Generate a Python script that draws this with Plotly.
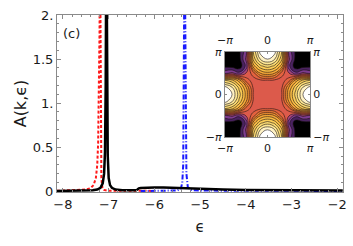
import plotly.graph_objects as go

# ---------------- data ----------------
# black solid curve
black_x = [-8.13, -7.8, -7.5, -7.35, -7.25, -7.18, -7.13, -7.10, -7.08, -7.065, -7.05,
           -7.035, -7.02, -7.0, -6.97, -6.93, -6.85, -6.7, -6.5, -6.4, -6.37, -6.34,
           -6.3, -6.2, -6.0, -5.8, -5.5, -5.35, -5.0, -4.5, -4.0, -3.5, -3.0, -2.5, -1.88]
black_y = [0.004, 0.005, 0.008, 0.012, 0.02, 0.04, 0.09, 0.2, 0.45, 1.2, 3.0,
           1.2, 0.4, 0.15, 0.07, 0.04, 0.02, 0.013, 0.01, 0.012, 0.02, 0.033,
           0.038, 0.042, 0.042, 0.042, 0.036, 0.033, 0.027, 0.021, 0.016, 0.013, 0.011, 0.009, 0.008]

# red dashed curve
red_x = [-8.13, -7.8, -7.5, -7.4, -7.33, -7.28, -7.25, -7.23, -7.21, -7.20, -7.19,
         -7.18, -7.17, -7.16, -7.14, -7.1, -7.0, -6.8, -6.5, -6.3, -6.0]
red_y = [0.006, 0.01, 0.02, 0.035, 0.07, 0.15, 0.3, 0.55, 1.1, 1.8, 3.0,
         1.5, 0.5, 0.15, 0.05, 0.015, 0.005, 0.003, 0.003, 0.006, 0.004]

# blue dash-dot curve
blue_x = [-6.3, -6.0, -5.7, -5.5, -5.42, -5.39, -5.37, -5.36, -5.35, -5.34, -5.33,
          -5.32, -5.30, -5.27, -5.2, -5.0, -4.5, -4.0, -3.0, -2.0, -1.88]
blue_y = [0.002, 0.003, 0.005, 0.01, 0.03, 0.1, 0.3, 0.8, 2.0, 3.0, 2.0,
          0.8, 0.2, 0.05, 0.015, 0.008, 0.006, 0.005, 0.004, 0.004, 0.004]

x_tickvals = [-8, -7, -6, -5, -4, -3, -2]
x_ticktext = ["\u22128", "\u22127", "\u22126", "\u22125", "\u22124", "\u22123", "\u22122"]
y_tickvals = [0, 0.5, 1, 1.5, 2]
y_ticktext = ["0", "0.5", "1.", "1.5", "2."]

# inset contour map: contour-band level read at each point of a 13x13 grid over [-pi, pi]^2
k_vals = [-3.1416, -2.618, -2.0944, -1.5708, -1.0472, -0.5236, 0.0,
          0.5236, 1.0472, 1.5708, 2.0944, 2.618, 3.1416]
inset_z = [
    [-1.5, -0.8, 0.2, 2.2, 10.5, 13.9, 14.5, 13.9, 10.5, 2.2, 0.2, -0.8, -1.5],
    [-0.8, -1.0, 0.0, 2.8, 9.8, 12.6, 13.6, 12.6, 9.8, 2.8, 0.0, -1.0, -0.8],
    [0.2, 0.0, -0.3, 1.8, 8.0, 10.2, 11.0, 10.2, 8.0, 1.8, -0.3, 0.0, 0.2],
    [2.2, 2.8, 1.8, 3.6, 5.0, 7.5, 8.1, 7.5, 5.0, 3.6, 1.8, 2.8, 2.2],
    [10.5, 9.8, 8.0, 5.0, 4.0, 4.3, 4.4, 4.3, 4.0, 5.0, 8.0, 9.8, 10.5],
    [13.9, 12.6, 10.2, 7.5, 4.3, 4.0, 4.0, 4.0, 4.3, 7.5, 10.2, 12.6, 13.9],
    [14.5, 13.6, 11.0, 8.1, 4.4, 4.0, 4.0, 4.0, 4.4, 8.1, 11.0, 13.6, 14.5],
    [13.9, 12.6, 10.2, 7.5, 4.3, 4.0, 4.0, 4.0, 4.3, 7.5, 10.2, 12.6, 13.9],
    [10.5, 9.8, 8.0, 5.0, 4.0, 4.3, 4.4, 4.3, 4.0, 5.0, 8.0, 9.8, 10.5],
    [2.2, 2.8, 1.8, 3.6, 5.0, 7.5, 8.1, 7.5, 5.0, 3.6, 1.8, 2.8, 2.2],
    [0.2, 0.0, -0.3, 1.8, 8.0, 10.2, 11.0, 10.2, 8.0, 1.8, -0.3, 0.0, 0.2],
    [-0.8, -1.0, 0.0, 2.8, 9.8, 12.6, 13.6, 12.6, 9.8, 2.8, 0.0, -1.0, -0.8],
    [-1.5, -0.8, 0.2, 2.2, 10.5, 13.9, 14.5, 13.9, 10.5, 2.2, 0.2, -0.8, -1.5],
]
pi_tickvals = [-3.1416, 0, 3.1416]
pi_ticktext = ["\u2212<i>\u03c0</i>", "0", "<i>\u03c0</i>"]

# ---------------- figure ----------------
FONT = "DejaVu Sans"
fig = go.Figure()

fig.add_trace(go.Scatter(x=red_x, y=red_y, mode="lines",
                         line=dict(color="#ff1a1a", width=2, dash="3px,2px"),
                         showlegend=False))
fig.add_trace(go.Scatter(x=blue_x, y=blue_y, mode="lines",
                         line=dict(color="#1a1aff", width=2, dash="5px,2px,1px,2px"),
                         showlegend=False))
fig.add_trace(go.Scatter(x=black_x, y=black_y, mode="lines",
                         line=dict(color="black", width=2.5),
                         showlegend=False))

# band n (0..14) is drawn with the colour at position n/14
sunset = [
    [0.0, "#000000"], [0.0714, "#4a2260"], [0.1429, "#7d3c8f"], [0.2143, "#a8457c"],
    [0.2857, "#dc5a4b"], [0.3571, "#e4623f"], [0.4286, "#ec7a36"], [0.5, "#f29232"],
    [0.5714, "#f6a838"], [0.6429, "#f9bc44"], [0.7143, "#fbcd58"], [0.7857, "#fcdc74"],
    [0.8571, "#fde796"], [0.9286, "#fff2c4"], [1.0, "#ffffff"],
]
fig.add_trace(go.Contour(
    x=k_vals, y=k_vals, z=inset_z, xaxis="x2", yaxis="y2",
    colorscale=sunset, showscale=False,
    contours=dict(start=0.5, end=13.5, size=1, coloring="fill"),
    line=dict(color="#1a1010", width=0.6, smoothing=1.3),
    hoverinfo="skip",
))
# invisible trace to activate mirrored inset axes
fig.add_trace(go.Scatter(x=[0], y=[0], xaxis="x3", yaxis="y3", mode="markers",
                         marker=dict(opacity=0), showlegend=False, hoverinfo="skip"))

axis_common = dict(showline=True, linecolor="#8a8a8a", linewidth=1, ticks="inside",
                   tickcolor="#8a8a8a", zeroline=False, showgrid=False)

fig.update_layout(
    width=353, height=246,
    margin=dict(l=57, r=10, t=15, b=54),
    paper_bgcolor="white", plot_bgcolor="white",
    font=dict(family=FONT, size=13, color="#1a1a1a"),
    xaxis=dict(**axis_common, range=[-8.13, -1.875], tickvals=x_tickvals,
               ticktext=x_ticktext, ticklen=4, mirror="ticks", automargin=False,
               minor=dict(ticks="inside", ticklen=2, dtick=0.2, tickcolor="#8a8a8a"),
               title=dict(text="\u03f5", font=dict(size=15), standoff=10)),
    yaxis=dict(**axis_common, range=[-0.008, 2.0], tickvals=y_tickvals,
               ticktext=y_ticktext, ticklen=4, mirror="ticks", automargin=False,
               minor=dict(ticks="inside", ticklen=2, dtick=0.1, tickcolor="#8a8a8a"),
               title=dict(text="A(k,\u03f5)", font=dict(size=16), standoff=2)),
    xaxis2=dict(**axis_common, domain=[0.587, 0.885], anchor="y2", range=[-3.1416, 3.1416],
                tickvals=pi_tickvals, ticktext=pi_ticktext, ticklen=2, mirror=True,
                tickfont=dict(size=11), automargin=False, ticklabelstandoff=1),
    yaxis2=dict(**axis_common, domain=[0.311, 0.791], anchor="x2", range=[-3.1416, 3.1416],
                tickvals=pi_tickvals, ticktext=pi_ticktext, ticklen=2, mirror=True,
                tickfont=dict(size=11), automargin=False),
    xaxis3=dict(**axis_common, overlaying="x2", anchor="y2", side="top", matches="x2",
                tickvals=pi_tickvals, ticktext=pi_ticktext, ticklen=2,
                tickfont=dict(size=11), automargin=False, ticklabelstandoff=3),
    yaxis3=dict(**axis_common, overlaying="y2", anchor="x2", side="right", matches="y2",
                tickvals=pi_tickvals, ticktext=pi_ticktext, ticklen=2,
                tickfont=dict(size=11), automargin=False),
    annotations=[dict(text="(c)", x=0.015, y=0.895, xref="paper", yref="paper",
                      xanchor="left", yanchor="middle", showarrow=False,
                      font=dict(size=13))],
)

fig.write_html("out.html", config={"displayModeBar": False},
               post_script="document.body.style.margin='0px';")
